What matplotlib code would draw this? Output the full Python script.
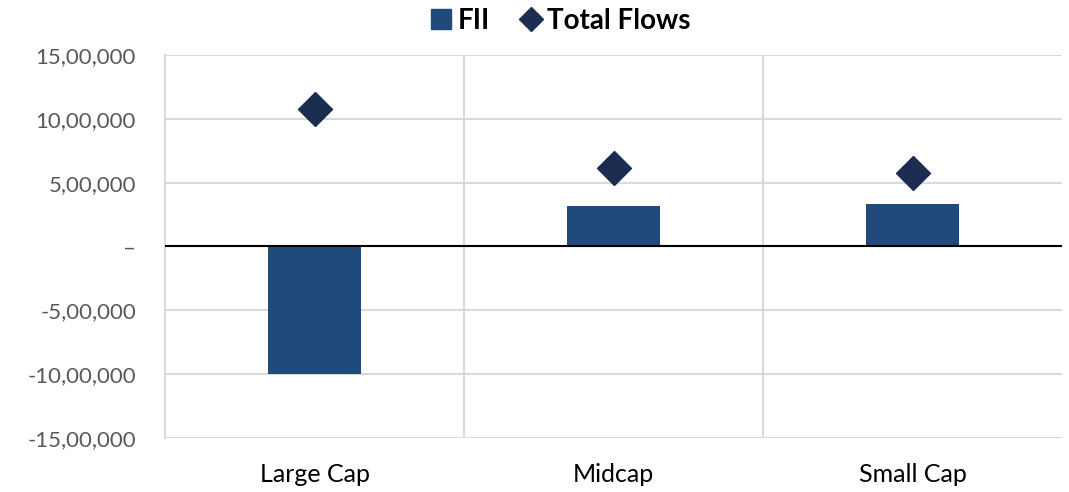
import numpy as np
import matplotlib.pyplot as plt
from matplotlib.ticker import FuncFormatter, MultipleLocator
from matplotlib.lines import Line2D

plt.rcParams['font.family'] = ['Lato', 'DejaVu Sans']

categories = ['Large Cap', 'Midcap', 'Small Cap']
fii = [-1000000, 318000, 333000]
total_flows = [1076000, 618000, 576000]

bar_color = '#214a7c'
diamond_color = '#1b2d50'


def indian_fmt(v, pos=None):
	if abs(v) < 1:
		return '–'
	sign = '-' if v < 0 else ''
	s = str(int(round(abs(v))))
	if len(s) > 3:
		head, tail = s[:-3], s[-3:]
		groups = []
		while len(head) > 2:
			groups.insert(0, head[-2:])
			head = head[:-2]
		if head:
			groups.insert(0, head)
		s = ','.join(groups) + ',' + tail
	return sign + s


fig = plt.figure(figsize=(10.69, 4.92), dpi=100)
ax = fig.add_axes([0.1544, 0.1098, 0.8391, 0.7784])

x = np.arange(len(categories))
ax.bar(x, fii, width=0.31, color=bar_color, zorder=3)
ax.plot(x, total_flows, linestyle='none', marker='D', markersize=17,
		color=diamond_color, zorder=4)

ax.set_xlim(-0.5, len(categories) - 0.5)
ax.set_ylim(-1500000, 1500000)
ax.yaxis.set_major_locator(MultipleLocator(500000))
ax.yaxis.set_major_formatter(FuncFormatter(indian_fmt))

# gridlines: horizontal per tick, vertical between categories
ax.grid(axis='y', color='#d9d9d9', linewidth=1.5, zorder=0)
for b in np.arange(0.5, len(categories) - 0.5, 1.0):
	ax.axvline(b, color='#d9d9d9', linewidth=1.5, zorder=0)
ax.axhline(0, color='black', linewidth=1.5, zorder=5)

for side in ['top', 'right', 'bottom']:
	ax.spines[side].set_visible(False)
ax.spines['left'].set_color('#d9d9d9')
ax.spines['left'].set_linewidth(1.5)

ax.set_xticks(x)
ax.set_xticklabels(categories, fontsize=18, color='black')
ax.tick_params(axis='x', length=0, pad=18)
ax.tick_params(axis='y', length=0, pad=21, labelsize=16, labelcolor='#595959')

handles = [
	Line2D([], [], linestyle='none', marker='s', markersize=14, color=bar_color),
	Line2D([], [], linestyle='none', marker='D', markersize=12, color=diamond_color),
]
leg = fig.legend(handles, ['FII', 'Total Flows'], loc='center', bbox_to_anchor=(0.525, 0.958),
				 ncol=2, frameon=False, handlelength=0.7, handletextpad=0.25,
				 columnspacing=1.1, prop={'size': 20, 'weight': 'bold'})

fig.savefig('out.png', dpi=100)
